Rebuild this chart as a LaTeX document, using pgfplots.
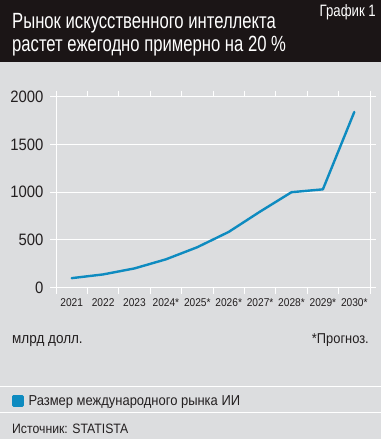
\documentclass[border=0pt]{standalone}
\usepackage{fontspec}
\setmainfont{Liberation Sans}[FakeStretch=0.9]
\newfontfamily\titlefont{Liberation Sans}[FakeStretch=0.757]
\newfontfamily\smalltitlefont{Liberation Sans}[FakeStretch=0.8]
\usepackage{pgfplots}
\pgfplotsset{compat=1.18}
\definecolor{bg}{HTML}{DCDDDF}
\definecolor{hdr}{HTML}{1B1516}
\definecolor{aiblue}{HTML}{0E8BC0}
\definecolor{txt}{HTML}{231F20}
\begin{document}
\begin{tikzpicture}
\fill[bg] (0,0) rectangle (381bp,439bp);
\fill[hdr] (0,377bp) rectangle (381bp,439bp);
\useasboundingbox (0,0) rectangle (381bp,439bp);
\node[anchor=base west, inner sep=0, text=white, font=\titlefont\fontsize{22bp}{24bp}\selectfont] at (12bp,410.7bp) {Рынок искусственного интеллекта};
\node[anchor=base west, inner sep=0, text=white, font=\titlefont\fontsize{22bp}{24bp}\selectfont] at (12bp,387bp) {растет ежегодно примерно на 20~\%};
\node[anchor=base east, inner sep=0, text=white, font=\smalltitlefont\fontsize{16.5bp}{18bp}\selectfont] at (376bp,422bp) {График 1};
\begin{axis}[
  at={(56bp,151.3bp)}, anchor=south west,
  scale only axis, width=314bp, height=191bp,
  xmin=-0.5, xmax=9.5, ymin=0, ymax=2000,
  xtick={-0.5,0.5,...,9.5},
  x tick label as interval,
  xticklabels={2021,2022,2023,2024*,2025*,2026*,2027*,2028*,2029*,2030*},
  ytick={0,500,1000,1500,2000},
  ymajorgrids, grid style={white, line width=0.9bp},
  axis line style={white, line width=0.9bp},
  tick style={white, line width=0.9bp},
  tick align=outside, major tick length=6bp,
  /pgf/number format/assume math mode=true,
  /pgf/number format/1000 sep={},
  xticklabel style={text=txt, font=\fontsize{11.3bp}{13bp}\selectfont, yshift=-1bp},
  yticklabel style={text=txt, font=\fontsize{16.5bp}{18bp}\selectfont, xshift=-3bp},
  legend style={at={(axis description cs:-0.1401,-0.594)}, anchor=west, draw=none, fill=none, inner sep=0pt,
    font=\fontsize{14.4bp}{16bp}\selectfont, text=txt,
    /tikz/every odd column/.append style={column sep=3bp}},
  legend image code/.code={\fill[aiblue] (0bp,-4.5bp) rectangle (9bp,4.5bp);},
  legend cell align=left,
]
\addplot[aiblue, line width=2.4bp, line join=round, line cap=round] coordinates {
  (0,100) (1,139) (2,202) (3,297) (4,424) (5,584) (6,797) (7,1000) (8,1030) (9,1840)
};
\addlegendentry{Размер международного рынка ИИ}
\end{axis}
\node[anchor=base west, inner sep=0, text=txt, font=\fontsize{15bp}{17bp}\selectfont] at (12bp,95.7bp) {млрд долл.};
\node[anchor=base east, inner sep=0, text=txt, font=\fontsize{14.3bp}{16bp}\selectfont] at (369bp,95.7bp) {*Прогноз.};
\draw[white, line width=1bp] (0,52.3bp) -- (381bp,52.3bp);
\draw[white, line width=1bp] (0,26.3bp) -- (381bp,26.3bp);
\node[anchor=base west, inner sep=0, text=txt, font=\fontsize{13.6bp}{16bp}\selectfont] at (12bp,5.7bp) {Источник: STATISTA};
\end{tikzpicture}
\end{document}
